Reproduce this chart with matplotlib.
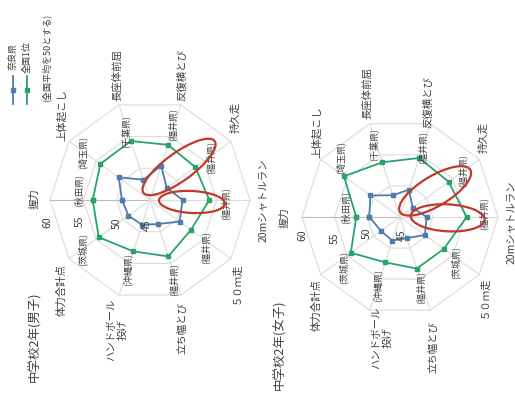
import numpy as np
import matplotlib.pyplot as plt
from matplotlib.patches import Ellipse
from matplotlib.lines import Line2D
from matplotlib.transforms import IdentityTransform

plt.rcParams['font.family'] = ['Noto Sans CJK JP', 'DejaVu Sans']

# data (national average = 50)
categories = ['握力', '上体起こし', '長座体前屈', '反復横とび', '持久走',
              '20mシャトルラン', '５０ｍ走', '立ち幅とび', 'ハンドボール\n投げ', '体力合計点']
nara_boys = [49.2, 50.8, 48.2, 50.4, 48.1, 49.9, 50.5, 48.8, 48.9, 49.0]
top_boys = [53.6, 54.2, 54.3, 53.7, 53.4, 53.9, 52.6, 53.9, 53.1, 54.5]
top_boys_pref = ['(秋田県)', '(埼玉県)', '(千葉県)', '(福井県)', '(福井県)',
                 '(福井県)', '(福井県)', '(福井県)', '(沖縄県)', '(茨城県)']
nara_girls = [49.7, 50.6, 48.5, 49.4, 47.4, 49.1, 49.7, 48.4, 48.8, 48.6]
top_girls = [51.7, 55.6, 53.8, 54.5, 54.2, 55.2, 53.3, 53.3, 52.3, 54.3]
top_girls_pref = ['(秋田県)', '(埼玉県)', '(千葉県)', '(福井県)', '(福井県)',
                  '(福井県)', '(茨城県)', '(福井県)', '(沖縄県)', '(茨城県)']
rings = [45, 50, 55, 60]

W, H = 515, 402
BLUE = '#4f7cac'
GREEN = '#2aa36b'
RED = '#c0392b'
GRID = '#dcdcdc'
TXT = '#404040'

fig = plt.figure(figsize=(W / 100, H / 100), dpi=100)


def ftext(x, y, s, size, **kw):
    # all text in the picture is turned 90 degrees
    fig.text(x / W, 1 - y / H, s, rotation=90, ha='center', va='center',
             fontsize=size, color=TXT, linespacing=1.1, **kw)


def radar(cx, cy, rad, nara, top):
    ax = fig.add_axes([(cx - rad) / W, 1 - (cy + rad) / H, 2 * rad / W, 2 * rad / H],
                      projection='polar')
    ax.set_theta_offset(np.pi)
    ax.set_theta_direction(-1)
    ax.set_ylim(rings[0], rings[-1])
    ax.axis('off')
    theta = np.linspace(0, 2 * np.pi, len(categories), endpoint=False)
    tc = np.append(theta, theta[0])
    for r in rings[1:]:
        ax.plot(tc, [r] * len(tc), color=GRID, lw=0.8, clip_on=False)
    for i, t in enumerate(theta):
        ax.plot([t, t], [rings[0], rings[-1]], color='#bdbdbd' if i == 0 else GRID,
                lw=0.8, clip_on=False)
    ax.plot(tc, np.append(nara, nara[0]), color=BLUE, lw=1.3, marker='s', ms=2.6,
            clip_on=False, zorder=3)
    ax.plot(tc, np.append(top, top[0]), color=GREEN, lw=1.3, marker='s', ms=2.6,
            clip_on=False, zorder=3)
    return ax


def highlight(ax, phi, r, w, h, ang):
    t = np.pi - np.deg2rad(phi)
    cx, cy = ax.transData.transform((t, r))
    fig.add_artist(Ellipse((cx, cy), w, h, angle=ang, fill=False, ec=RED, lw=1.6,
                           transform=IdentityTransform(), zorder=5))


ax1 = radar(150, 201, 100, nara_boys, top_boys)
ax2 = radar(400, 218, 98, nara_girls, top_girls)

highlight(ax1, 48.7, 51.6, 88, 28, 36)
highlight(ax1, -2.7, 51.3, 66, 22, -3)
highlight(ax2, 36.6, 51.7, 82, 30, 31)
highlight(ax2, -1.0, 52.3, 74, 27, -3)

# category labels
cat_pos_boys = [(35, 199), (62, 115), (117, 75), (182, 75), (235, 117),
                (263, 200), (237, 283), (182, 328), (117, 330), (62, 290)]
cat_pos_girls = [(285, 218), (317, 132), (367, 93), (428, 102), (483, 137),
                 (511, 222), (485, 297), (433, 347), (382, 338), (317, 305)]
pref_pos_boys = [(78, 191), (82, 153), (125, 132), (172, 125), (210, 157),
                 (225, 204), (205, 247), (173, 280), (127, 270), (82, 250)]
pref_pos_girls = [(345, 208), (340, 158), (373, 145), (422, 148), (462, 171),
                  (483, 214), (455, 263), (420, 288), (377, 285), (343, 268)]
tick_pos_boys = [(147, 225), (117, 223), (80, 221), (47, 222)]
tick_pos_girls = [(402, 235), (367, 233), (335, 238), (302, 235)]

for (x, y), s in zip(cat_pos_boys, categories):
    ftext(x, y, s, 7.5)
for (x, y), s in zip(cat_pos_girls, categories):
    ftext(x, y, s, 7.5)
for (x, y), s in zip(pref_pos_boys, top_boys_pref):
    ftext(x, y, s, 6.5)
for (x, y), s in zip(pref_pos_girls, top_girls_pref):
    ftext(x, y, s, 6.5)
for (x, y), v in zip(tick_pos_boys, rings):
    ftext(x, y, str(v), 7.5)
for (x, y), v in zip(tick_pos_girls, rings):
    ftext(x, y, str(v), 7.5)

ftext(35, 337, '中学校2年(男子)', 9)
ftext(280, 345, '中学校2年(女子)', 9)

# legend
for x, c, s in [(13, BLUE, '奈良県'), (27, GREEN, '全国1位')]:
    fig.add_artist(Line2D([x / W, x / W], [1 - 105 / H, 1 - 77 / H], color=c, lw=1.3))
    fig.add_artist(Line2D([x / W], [1 - 91 / H], color=c, marker='s', ms=2.6))
    ftext(x, 57, s, 6.5)
ftext(46, 58, '(全国平均を50とする)', 6.5)

fig.savefig('out.png', dpi=100)
